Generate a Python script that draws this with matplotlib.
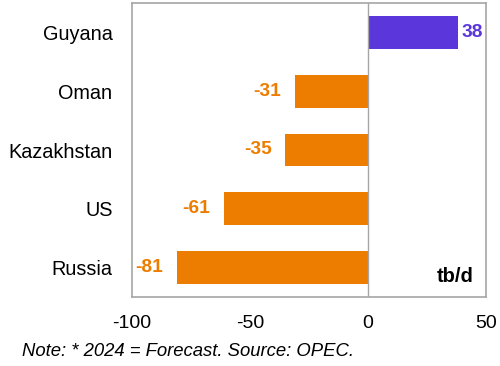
import matplotlib.pyplot as plt

plt.rcParams['font.family'] = ['Liberation Sans', 'DejaVu Sans']
plt.rcParams['axes.unicode_minus'] = False

countries = ['Guyana', 'Oman', 'Kazakhstan', 'US', 'Russia']
changes = [38, -31, -35, -61, -81]

purple = '#5B37DB'
orange = '#ED7D00'
grey = '#A6A6A6'

fig = plt.figure(figsize=(5, 3.66), dpi=100)
ax = fig.add_axes([132/500, 1 - 297/366, 354/500, 294/366])

ypos = list(range(len(countries)))
colors = [purple if v > 0 else orange for v in changes]
ax.barh(ypos, changes, height=0.56, color=colors, zorder=2)

for y, v, c in zip(ypos, changes, colors):
    if v > 0:
        ax.annotate(str(v), (v, y), xytext=(3, 0), textcoords='offset points',
                    ha='left', va='center', color=c, fontsize=13.8, fontweight='bold')
    else:
        ax.annotate(str(v), (v, y), xytext=(-10, 0), textcoords='offset points',
                    ha='right', va='center', color=c, fontsize=13.8, fontweight='bold')

ax.axvline(0, color=grey, linewidth=1, zorder=3)
ax.set_xlim(-100, 50)
ax.set_ylim(len(countries) - 0.5, -0.5)
ax.set_xticks([-100, -50, 0, 50])
ax.set_yticks(ypos)
ax.set_yticklabels(countries, fontsize=14.3)
ax.tick_params(axis='both', length=0)
ax.tick_params(axis='x', labelsize=14, pad=13)
ax.tick_params(axis='y', pad=14)
for s in ax.spines.values():
    s.set_color(grey)
    s.set_linewidth(1.2)

ax.text(0.965, 0.05, 'tb/d', transform=ax.transAxes, ha='right', va='baseline',
        fontsize=14.5, fontweight='bold')

fig.text(22/500, 1 - 352/366, 'Note: * 2024 = Forecast. Source: OPEC.',
         fontsize=13.3, style='italic', va='center', ha='left')

fig.savefig('out.png', dpi=100)
